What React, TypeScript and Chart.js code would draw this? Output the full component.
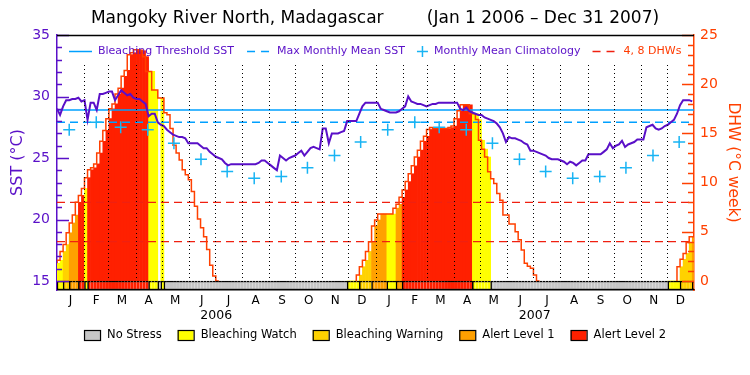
import React, { useEffect, useRef } from 'react';
import { Chart, registerables } from 'chart.js';

Chart.register(...registerables);

// ---- data (twice-weekly samples, 3.5 days apart, Jan 1 2006 - Dec 31 2007) ----
const STEP_DAYS = 3.5;
const TOTAL_DAYS = 730;

const SST = [
  29.0, 28.5, 29.2, 29.7, 29.7, 29.8, 29.8, 29.9, 29.6, 29.7,
  28.1, 29.5, 29.5, 28.9, 30.2, 30.2, 30.3, 30.4, 30.4, 29.7,
  30.1, 30.5, 30.3, 30.1, 30.2, 29.9, 29.8, 29.8, 29.6, 29.4,
  28.4, 28.6, 28.6, 27.9, 27.7, 27.6, 27.3, 27.1, 26.9, 26.8,
  26.7, 26.7, 26.6, 26.2, 26.2, 26.2, 26.2, 26.0, 25.8, 25.8,
  25.5, 25.3, 25.1, 25.0, 24.9, 24.6, 24.4, 24.5, 24.5, 24.5,
  24.5, 24.5, 24.5, 24.5, 24.5, 24.5, 24.6, 24.8, 24.8, 24.6,
  24.4, 24.2, 24.0, 25.2, 25.0, 24.8, 25.0, 25.1, 25.2, 25.4,
  25.6, 25.2, 25.5, 25.8, 25.9, 25.8, 25.7, 27.4, 27.4, 26.2,
  27.0, 27.0, 27.0, 27.1, 27.2, 28.0, 28.0, 28.0, 28.0, 28.6,
  29.2, 29.5, 29.5, 29.5, 29.5, 29.5, 29.0, 28.9, 28.8, 28.7,
  28.7, 28.7, 28.8, 29.0, 29.2, 30.0, 29.6, 29.5, 29.4, 29.4,
  29.3, 29.2, 29.3, 29.4, 29.4, 29.5, 29.5, 29.5, 29.5, 29.5,
  29.5, 29.5, 29.0, 28.9, 29.1, 28.8, 28.7, 28.6, 28.5, 28.5,
  28.3, 28.2, 28.1, 28.0, 27.8, 27.5, 27.0, 26.3, 26.7, 26.6,
  26.6, 26.5, 26.4, 26.2, 26.1, 25.6, 25.6, 25.5, 25.4, 25.3,
  25.2, 25.0, 24.9, 24.9, 24.9, 24.8, 24.7, 24.5, 24.7, 24.6,
  24.4, 24.6, 24.8, 24.8, 25.3, 25.3, 25.3, 25.3, 25.3, 25.5,
  25.7, 26.2, 25.8, 26.0, 26.1, 26.4, 25.9, 26.1, 26.2, 26.3,
  26.5, 26.5, 26.5, 27.5, 27.6, 27.7, 27.4, 27.3, 27.4, 27.6,
  27.7, 27.9, 28.1, 28.6, 29.3, 29.7, 29.7, 29.7, 29.6,
];

const DHW = [
  1.8, 2.1, 3.0, 3.7, 4.9, 5.9, 6.7, 8.0, 8.7, 9.4,
  10.5, 11.3, 11.5, 11.9, 13.0, 14.2, 15.3, 16.5, 17.5, 18.0,
  19.0, 19.6, 20.8, 21.4, 23.0, 23.2, 23.5, 23.5, 23.4, 22.8,
  21.3, 21.3, 19.4, 19.4, 18.6, 18.6, 17.1, 16.9, 15.5, 13.8,
  13.0, 12.3, 11.3, 10.8, 10.3, 9.1, 7.6, 6.3, 5.4, 4.5,
  3.2, 1.6, 0.5, 0, 0, 0, 0, 0, 0, 0,
  0, 0, 0, 0, 0, 0, 0, 0, 0, 0,
  0, 0, 0, 0, 0, 0, 0, 0, 0, 0,
  0, 0, 0, 0, 0, 0, 0, 0, 0, 0,
  0, 0, 0, 0, 0, 0, 0, 0, 0, 0.6,
  1.45, 2.1, 3.0, 4.0, 5.6, 6.2, 6.8, 6.8, 6.8, 6.8,
  6.8, 7.4, 7.8, 8.5, 9.25, 10.1, 10.9, 11.7, 12.6, 13.3,
  14.2, 14.7, 15.4, 15.6, 15.5, 15.5, 15.5, 15.5, 15.5, 15.6,
  15.75, 16.5, 17.3, 17.9, 17.9, 17.9, 17.0, 17.0, 16.4, 14.3,
  13.4, 12.6, 11.1, 10.4, 9.9, 8.9, 8.2, 6.7, 6.7, 5.8,
  5.8, 5.0, 4.2, 3.15, 1.8, 1.5, 1.3, 0.6, 0, 0,
  0, 0, 0, 0, 0, 0, 0, 0, 0, 0,
  0, 0, 0, 0, 0, 0, 0, 0, 0, 0,
  0, 0, 0, 0, 0, 0, 0, 0, 0, 0,
  0, 0, 0, 0, 0, 0, 0, 0, 0, 0,
  0, 0, 0, 0, 1.45, 2.2, 2.8, 3.9, 4.5,
];

// stress level: 0 no stress, 1 watch, 2 warning, 3 alert 1, 4 alert 2
const LEVEL = [
  1, 1, 2, 2, 3, 3, 3, 4, 4, 1,
  4, 4, 4, 4, 4, 4, 4, 4, 4, 4,
  4, 4, 4, 4, 4, 4, 4, 4, 4, 4,
  1, 1, 1, 0, 1, 0, 0, 0, 0, 0,
  0, 0, 0, 0, 0, 0, 0, 0, 0, 0,
  0, 0, 0, 0, 0, 0, 0, 0, 0, 0,
  0, 0, 0, 0, 0, 0, 0, 0, 0, 0,
  0, 0, 0, 0, 0, 0, 0, 0, 0, 0,
  0, 0, 0, 0, 0, 0, 0, 0, 0, 0,
  0, 0, 0, 0, 0, 1, 1, 1, 1, 2,
  2, 2, 2, 3, 3, 3, 3, 3, 1, 1,
  1, 3, 3, 4, 4, 4, 4, 4, 4, 4,
  4, 4, 4, 4, 4, 4, 4, 4, 4, 4,
  4, 4, 4, 4, 4, 4, 1, 1, 1, 1,
  1, 1, 0, 0, 0, 0, 0, 0, 0, 0,
  0, 0, 0, 0, 0, 0, 0, 0, 0, 0,
  0, 0, 0, 0, 0, 0, 0, 0, 0, 0,
  0, 0, 0, 0, 0, 0, 0, 0, 0, 0,
  0, 0, 0, 0, 0, 0, 0, 0, 0, 0,
  0, 0, 0, 0, 0, 0, 0, 0, 0, 0,
  1, 1, 1, 1, 2, 2, 2, 2, 3,
];

const CLIMATOLOGY = [27.3, 27.9, 27.5, 27.3, 26.2, 24.9, 23.9, 23.35, 23.5, 24.2, 25.2, 26.3];
const THRESHOLD_SST = 28.9;
const MMM_SST = 27.9;
const DHW_MARKS = [4, 8];

const MONTH_LETTERS = ['J', 'F', 'M', 'A', 'M', 'J', 'J', 'A', 'S', 'O', 'N', 'D'];
const MONTH_LENGTHS = [31, 28, 31, 30, 31, 30, 31, 31, 30, 31, 30, 31];
const YEARS = ['2006', '2007'];
const SST_TICKS = [15, 20, 25, 30, 35];
const DHW_TICKS = [0, 5, 10, 15, 20, 25];
const LEVEL_NAMES = ['No Stress', 'Bleaching Watch', 'Bleaching Warning', 'Alert Level 1', 'Alert Level 2'];
const LEVEL_COLORS = ['#C6C6C6', '#FFFF00', '#FFD200', '#FFA000', '#FF2000'];

const TITLE = 'Mangoky River North, Madagascar        (Jan 1 2006 \u2013 Dec 31 2007)';

// ---- styling ----
const FONT = '"DejaVu Sans", sans-serif';
const PURPLE = '#5A10C8';
const ORANGE = '#FF4000';
const BLUE = '#00A0FF';
const CROSS_BLUE = '#18B4F4';
const RED_DASH = '#F02010';

const SST_MIN = 14.27; // bottom of the status strip on the SST axis
const DHW_MIN = -0.915; // bottom of the status strip on the DHW axis

// derived calendar helpers
const monthStarts: number[] = [];
{
  let d = 0;
  for (let y = 0; y < YEARS.length; y++) {
    for (let m = 0; m < 12; m++) {
      monthStarts.push(d);
      d += MONTH_LENGTHS[m];
    }
  }
}
const monthMids = monthStarts.map((s, i) => s + MONTH_LENGTHS[i % 12] / 2);
const monthBounds = monthStarts.slice(1);
const yearMids = YEARS.map((_, i) => i * 365 + 182.5);

const framePlugin = {
  id: 'frame',
  afterDatasetsDraw(chart: any) {
    const { ctx, chartArea: ca, scales } = chart;
    const xs = scales.x, yS = scales.ySST, yD = scales.yDHW;
    ctx.save();
    // dotted month separators
    ctx.beginPath();
    ctx.setLineDash([1, 3]);
    ctx.strokeStyle = '#000';
    ctx.lineWidth = 1;
    const top = ca.top + 30;
    const bottom = yD.getPixelForValue(0);
    monthBounds.forEach((d) => {
      const px = Math.round(xs.getPixelForValue(d)) + 0.5;
      ctx.moveTo(px, top);
      ctx.lineTo(px, bottom);
    });
    ctx.stroke();
    ctx.setLineDash([]);

    // inward tick marks
    ctx.lineWidth = 1.5;
    ctx.strokeStyle = PURPLE;
    ctx.beginPath();
    for (let v = 15; v <= 35; v++) {
      const py = Math.round(yS.getPixelForValue(v)) + 0.5;
      const len = v % 5 === 0 ? 12 : 5;
      ctx.moveTo(ca.left, py);
      ctx.lineTo(ca.left + len, py);
    }
    ctx.stroke();
    ctx.strokeStyle = ORANGE;
    ctx.beginPath();
    for (let v = 0; v <= 25; v++) {
      const py = Math.round(yD.getPixelForValue(v)) + 0.5;
      const len = v % 5 === 0 ? 12 : 6;
      ctx.moveTo(ca.right, py);
      ctx.lineTo(ca.right - len, py);
    }
    ctx.stroke();

    // top frame line
    ctx.strokeStyle = '#000';
    ctx.beginPath();
    ctx.moveTo(ca.left, ca.top + 0.5);
    ctx.lineTo(ca.right, ca.top + 0.5);
    ctx.stroke();

    // in-plot legend
    const ly = ca.top + 16.5;
    let cx = ca.left + 12;
    ctx.font = `11px ${FONT}`;
    ctx.textBaseline = 'middle';
    ctx.textAlign = 'left';
    const text = (t: string, color: string) => {
      ctx.fillStyle = color;
      ctx.fillText(t, cx, ly);
      cx += ctx.measureText(t).width;
    };
    ctx.lineWidth = 1.5;
    ctx.strokeStyle = BLUE;
    ctx.beginPath();
    ctx.moveTo(cx, ly);
    ctx.lineTo(cx + 23, ly);
    ctx.stroke();
    cx += 29;
    text('Bleaching Threshold SST', PURPLE);
    cx += 13;
    ctx.beginPath();
    ctx.moveTo(cx, ly); ctx.lineTo(cx + 8, ly);
    ctx.moveTo(cx + 14, ly); ctx.lineTo(cx + 22, ly);
    ctx.stroke();
    cx += 30;
    text('Max Monthly Mean SST', PURPLE);
    cx += 12;
    ctx.strokeStyle = CROSS_BLUE;
    ctx.beginPath();
    ctx.moveTo(cx, ly); ctx.lineTo(cx + 11, ly);
    ctx.moveTo(cx + 5.5, ly - 5.5); ctx.lineTo(cx + 5.5, ly + 5.5);
    ctx.stroke();
    cx += 17;
    text('Monthly Mean Climatology', PURPLE);
    cx += 12;
    ctx.strokeStyle = RED_DASH;
    ctx.beginPath();
    ctx.moveTo(cx, ly); ctx.lineTo(cx + 8, ly);
    ctx.moveTo(cx + 14, ly); ctx.lineTo(cx + 22, ly);
    ctx.stroke();
    cx += 31;
    text('4, 8 DHWs', '#FF3A00');
    ctx.restore();
  },
  afterDraw(chart: any) {
    const { ctx, width } = chart;
    ctx.save();
    ctx.font = `11.5px ${FONT}`;
    ctx.textBaseline = 'middle';
    ctx.textAlign = 'left';
    const boxW = 16, boxH = 10, gap = 7, spacing = 16;
    const widths = LEVEL_NAMES.map((n) => boxW + gap + ctx.measureText(n).width);
    const total = widths.reduce((a, b) => a + b, 0) + spacing * (LEVEL_NAMES.length - 1);
    let x = (width - total) / 2;
    const cy = 327;
    LEVEL_NAMES.forEach((n, i) => {
      ctx.fillStyle = LEVEL_COLORS[i];
      ctx.fillRect(x, cy - boxH / 2, boxW, boxH);
      ctx.strokeStyle = '#000';
      ctx.lineWidth = 1.2;
      ctx.strokeRect(x + 0.5, cy - boxH / 2 + 0.5, boxW, boxH);
      ctx.fillStyle = '#000';
      ctx.fillText(n, x + boxW + gap, cy + 0.5);
      x += widths[i] + spacing;
    });
    ctx.restore();
  },
};

export default function App() {
  const ref = useRef<HTMLCanvasElement>(null);
  useEffect(() => {
    const n = LEVEL.length;
    const fillData = DHW.map((v, i) => ({ x: i * STEP_DAYS + STEP_DAYS / 2, y: v }));
    const stripData = LEVEL.map((_, i) => ({ x: i * STEP_DAYS + STEP_DAYS / 2, y: [DHW_MIN, 0] }));
    const dhwLine = DHW.map((v, i) => ({ x: i * STEP_DAYS, y: v }));
    dhwLine.push({ x: DHW.length * STEP_DAYS, y: DHW[DHW.length - 1] });
    const sstLine = SST.map((v, i) => ({ x: i * STEP_DAYS, y: v }));
    const climPts = monthStarts.map((s, i) => ({ x: s + 14, y: CLIMATOLOGY[i % 12] }));
    const hline = (v: number) => [{ x: 0, y: v }, { x: TOTAL_DAYS, y: v }];

    const chart = new Chart(ref.current as HTMLCanvasElement, {
      type: 'bar',
      data: {
        datasets: [
          {
            type: 'line',
            label: 'SST',
            data: sstLine,
            yAxisID: 'ySST',
            xAxisID: 'x',
            borderColor: PURPLE,
            borderWidth: 2,
            pointRadius: 0,
            order: 1,
          } as any,
          {
            type: 'line',
            label: 'Monthly Mean Climatology',
            data: climPts,
            yAxisID: 'ySST',
            xAxisID: 'x',
            showLine: false,
            pointStyle: 'cross',
            pointRadius: 6,
            borderColor: CROSS_BLUE,
            backgroundColor: CROSS_BLUE,
            pointBorderWidth: 1.5,
            order: 1,
          } as any,
          {
            type: 'line',
            label: 'Bleaching Threshold SST',
            data: hline(THRESHOLD_SST),
            yAxisID: 'ySST',
            xAxisID: 'x',
            borderColor: BLUE,
            borderWidth: 1.5,
            pointRadius: 0,
            order: 3,
          } as any,
          {
            type: 'line',
            label: 'Max Monthly Mean SST',
            data: hline(MMM_SST),
            yAxisID: 'ySST',
            xAxisID: 'x',
            borderColor: BLUE,
            borderWidth: 1.5,
            borderDash: [8, 5],
            pointRadius: 0,
            order: 3,
          } as any,
          ...DHW_MARKS.map((v) => ({
            type: 'line',
            label: `${v} DHW`,
            data: hline(v),
            yAxisID: 'yDHW',
            xAxisID: 'x',
            borderColor: RED_DASH,
            borderWidth: 1.2,
            borderDash: [8, 5],
            pointRadius: 0,
            order: 3,
          } as any)),
          {
            type: 'line',
            label: 'DHW',
            data: dhwLine,
            yAxisID: 'yDHW',
            xAxisID: 'x',
            stepped: 'after',
            borderColor: ORANGE,
            borderWidth: 1.5,
            pointRadius: 0,
            order: 2,
            segment: {
              borderColor: (c: any) =>
                c.p0.parsed.y === 0 && c.p1.parsed.y === 0 ? 'rgba(0,0,0,0)' : undefined,
            },
          } as any,
          {
            type: 'bar',
            label: 'DHW fill',
            data: fillData,
            yAxisID: 'yDHW',
            xAxisID: 'x',
            backgroundColor: LEVEL.map((l) => (l === 0 ? 'rgba(0,0,0,0)' : LEVEL_COLORS[l])),
            borderColor: LEVEL.map((l) => (l === 0 ? 'rgba(0,0,0,0)' : LEVEL_COLORS[l])),
            borderWidth: 0,
            barPercentage: 1,
            categoryPercentage: 1,
            grouped: false,
            order: 6,
          } as any,
          {
            type: 'bar',
            label: 'Stress strip',
            data: stripData,
            yAxisID: 'yDHW',
            xAxisID: 'x',
            backgroundColor: LEVEL.map((l) => LEVEL_COLORS[l]),
            borderColor: '#000',
            borderSkipped: false,
            borderWidth: (c: any) => {
              const i = c.dataIndex;
              const start = i === 0 || LEVEL[i - 1] !== LEVEL[i];
              return { top: 1.5, bottom: 1.5, left: start ? 1.5 : 0, right: i === n - 1 ? 1.5 : 0 };
            },
            barPercentage: 1,
            categoryPercentage: 1,
            grouped: false,
            order: 0,
          } as any,
        ],
      },
      options: {
        animation: false,
        responsive: true,
        maintainAspectRatio: false,
        devicePixelRatio: 1,
        events: [],
        layout: { padding: { left: 0, right: 0, top: 0, bottom: 43 } },
        plugins: {
          legend: { display: false },
          tooltip: { enabled: false },
          title: {
            display: true,
            text: TITLE,
            color: '#000',
            font: { family: FONT, size: 17, weight: 'normal' },
            padding: { top: 0, bottom: 6.6 },
          },
        },
        scales: {
          x: {
            type: 'linear',
            position: 'bottom',
            min: 0,
            max: TOTAL_DAYS,
            offset: false,
            weight: 0,
            grid: { display: false, drawTicks: false, offset: false },
            border: { display: true, color: '#000', width: 1.5 },
            ticks: {
              autoSkip: false,
              maxRotation: 0,
              color: '#000',
              padding: 4,
              font: { family: FONT, size: 12 },
              callback: (_v: any, i: number) => MONTH_LETTERS[i % 12],
            },
            afterBuildTicks: (s: any) => {
              s.ticks = monthMids.map((v) => ({ value: v }));
            },
            afterFit: (s: any) => {
              s.height = 17;
            },
          },
          xYear: {
            type: 'linear',
            position: 'bottom',
            min: 0,
            max: TOTAL_DAYS,
            offset: false,
            weight: 1,
            grid: { display: false, drawTicks: false, offset: false },
            border: { display: false },
            ticks: {
              autoSkip: false,
              maxRotation: 0,
              color: '#000',
              padding: 1,
              font: { family: FONT, size: 12.5 },
              callback: (_v: any, i: number) => YEARS[i],
            },
            afterBuildTicks: (s: any) => {
              s.ticks = yearMids.map((v) => ({ value: v }));
            },
            afterFit: (s: any) => {
              s.height = 17;
            },
          },
          ySST: {
            type: 'linear',
            position: 'left',
            min: SST_MIN,
            max: 35,
            grid: { display: false, drawTicks: false },
            border: { display: true, color: PURPLE, width: 1.5 },
            ticks: {
              color: PURPLE,
              padding: 7,
              font: { family: FONT, size: 14 },
            },
            afterBuildTicks: (s: any) => {
              s.ticks = SST_TICKS.map((v) => ({ value: v }));
            },
            title: {
              display: true,
              text: 'SST (\u00B0C)',
              color: PURPLE,
              padding: 0,
              font: { family: FONT, size: 16 },
            },
            afterFit: (s: any) => {
              s.width = 49;
            },
          },
          yDHW: {
            type: 'linear',
            position: 'right',
            min: DHW_MIN,
            max: 25,
            grid: { display: false, drawTicks: false },
            border: { display: true, color: ORANGE, width: 1.5 },
            ticks: {
              color: ORANGE,
              padding: 6,
              font: { family: FONT, size: 14 },
            },
            afterBuildTicks: (s: any) => {
              s.ticks = DHW_TICKS.map((v) => ({ value: v }));
            },
            title: {
              display: true,
              text: 'DHW (\u00B0C week)',
              color: ORANGE,
              padding: 0,
              font: { family: FONT, size: 15.5 },
            },
            afterFit: (s: any) => {
              s.width = 48;
            },
          },
        },
      } as any,
      plugins: [framePlugin],
    });
    return () => chart.destroy();
  }, []);

  return (
    <div style={{ width: 734, height: 359, position: 'relative' }}>
      <canvas ref={ref} />
    </div>
  );
}
